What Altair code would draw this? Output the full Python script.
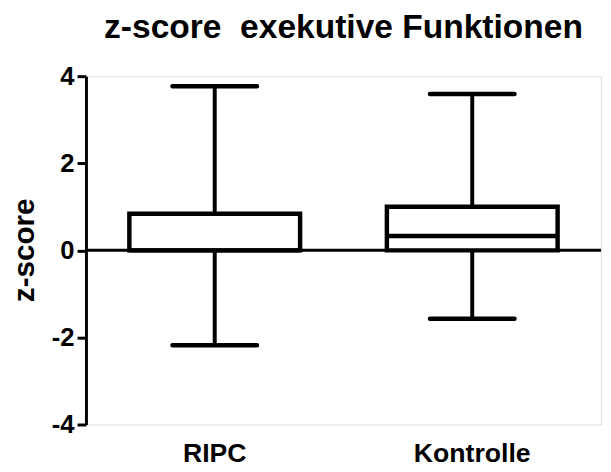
import altair as alt
import pandas as pd

groups = ["RIPC", "Kontrolle"]
lower = [-2.18, -1.57]
q1 = [0.0, 0.0]
median = [0.0, 0.33]
q3 = [0.84, 1.0]
upper = [3.77, 3.59]

df = pd.DataFrame({"group": groups, "lower": lower, "q1": q1,
                   "median": median, "q3": q3, "upper": upper})
zero = pd.DataFrame({"y": [0]})

FONT = "Liberation Sans"

x = alt.X("group:N", sort=groups, title=None,
          scale=alt.Scale(paddingInner=0.337, paddingOuter=0.1686),
          axis=alt.Axis(domain=False, ticks=False, grid=False, labelAngle=0,
                        labelFont=FONT, labelFontSize=27, labelFontWeight="bold",
                        labelColor="black", labelBaseline="alphabetic",
                        labelPadding=38))
yscale = alt.Scale(domain=[-4, 4], nice=False, zero=False)
yaxis = alt.Axis(values=[-4, -2, 0, 2, 4], grid=False, domainWidth=3,
                 domainColor="black", tickColor="black", tickWidth=3,
                 tickSize=9, labelFont=FONT, labelFontSize=26,
                 labelFontWeight="bold", labelColor="black", labelPadding=3,
                 labelExpr="datum.value < 0 ? '-' + abs(datum.value) : '' + datum.value",
                 title="z-score", titleFont=FONT, titleFontSize=30,
                 titleFontWeight="bold", titleColor="black",
                 titleAngle=-90, titleBaseline="alphabetic", titleAlign="center",
                 titleX=-53, titleY=176)

base = alt.Chart(df)

whisker = base.mark_rule(color="black", strokeWidth=4).encode(
    x=x, y=alt.Y("lower:Q", scale=yscale, axis=yaxis), y2="upper:Q")

zline = alt.Chart(zero).mark_rule(color="black", strokeWidth=3).encode(
    y=alt.Y("y:Q", scale=yscale), x=alt.value(0), x2=alt.value(522))

box = base.mark_bar(fill="white", stroke="black", strokeWidth=4.5, opacity=1).encode(
    x=x, y=alt.Y("q1:Q", scale=yscale), y2="q3:Q")

med = base.mark_tick(color="black", thickness=4.5, size=173, opacity=1).encode(
    x=x, y=alt.Y("median:Q", scale=yscale))

cap_lo = base.mark_tick(color="black", thickness=4.5, size=90, cornerRadius=2,
                        opacity=1).encode(x=x, y=alt.Y("lower:Q", scale=yscale))
cap_hi = base.mark_tick(color="black", thickness=4.5, size=90, cornerRadius=2,
                        opacity=1).encode(x=x, y=alt.Y("upper:Q", scale=yscale))

chart = alt.layer(whisker, zline, box, med, cap_lo, cap_hi).properties(
    width=522, height=353,
    padding={"left": 2, "top": 0, "right": 0, "bottom": 0},
    title=alt.Title("z-score \u00a0exekutive Funktionen", font=FONT, fontSize=34,
                    fontWeight="bold", color="black", anchor="middle",
                    frame="group", baseline="alphabetic", offset=-8),
).configure_view(strokeWidth=0).configure(background="white")

chart.save("out.html", embed_options={"renderer": "svg", "actions": False})
